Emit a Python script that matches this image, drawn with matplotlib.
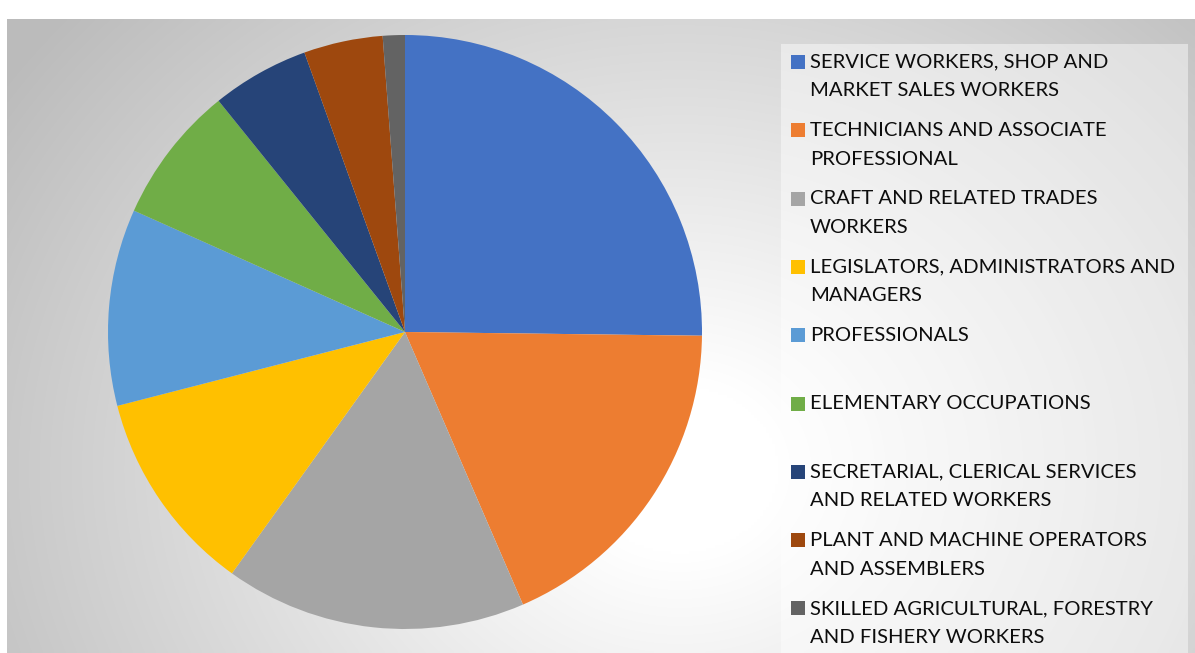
import matplotlib
matplotlib.use("Agg")
import matplotlib.pyplot as plt
import numpy as np
from matplotlib.patches import Rectangle

W, H = 1195, 653

# occupational groups, share of respondents (%)
labels = [
    "SERVICE WORKERS, SHOP AND\nMARKET SALES WORKERS",
    "TECHNICIANS AND ASSOCIATE\nPROFESSIONAL",
    "CRAFT AND RELATED TRADES\nWORKERS",
    "LEGISLATORS, ADMINISTRATORS AND\nMANAGERS",
    "PROFESSIONALS",
    "ELEMENTARY OCCUPATIONS",
    "SECRETARIAL, CLERICAL SERVICES\nAND RELATED WORKERS",
    "PLANT AND MACHINE OPERATORS\nAND ASSEMBLERS",
    "SKILLED AGRICULTURAL, FORESTRY\nAND FISHERY WORKERS",
]
shares = [25.2, 18.3, 16.4, 11.1, 10.7, 7.5, 5.3, 4.3, 1.2]
colors = ["#4472C4", "#ED7D31", "#A5A5A5", "#FFC000", "#5B9BD5",
          "#70AD47", "#264478", "#9E480E", "#636363"]

fig = plt.figure(figsize=(W / 100, H / 100), dpi=100)
fig.patch.set_facecolor("white")


def px(x, y):
    """pixel (from top-left) -> figure fraction"""
    return x / W, 1 - y / H


# chart area background: soft radial grey gradient
bg = fig.add_axes([7 / W, 0, (W - 7) / W, (H - 19) / H])
gx, gy = np.meshgrid(np.linspace(7, W, 400), np.linspace(19, H, 220))
d = np.hypot((gx - 680) / 1.0, (gy - 470) / 0.85)
shade = np.clip(1 - 0.24 * np.clip((d - 100) / 650, 0, 1.1), 0, 1)
bg.imshow(np.dstack([shade] * 3), aspect="auto", extent=(0, 1, 0, 1),
          interpolation="bilinear")
bg.axis("off")

# legend panel (lighter box)
lx0, ly0, lx1 = 781, 44, 1188
leg = fig.add_axes([lx0 / W, 0, (lx1 - lx0) / W, (H - ly0) / H])
leg.set_xlim(0, 1)
leg.set_ylim(0, 1)
leg.add_patch(Rectangle((0, 0), 1, 1, facecolor="white", alpha=0.45, lw=0))
leg.axis("off")

# pie
cx, cy, r = 405, 332, 297
ax = fig.add_axes([(cx - r) / W, (H - cy - r) / H, 2 * r / W, 2 * r / H])
ax.pie(shares, colors=colors, startangle=90, counterclock=False,
       wedgeprops=dict(linewidth=0))
ax.set_xlim(-1, 1)
ax.set_ylim(-1, 1)

# legend entries
y0, step, lh = 62, 68.3, 29
for i, (lab, col) in enumerate(zip(labels, colors)):
    yc = y0 + i * step
    fx, fy = px(791, yc + 7)
    fig.patches.append(Rectangle((fx, fy), 14 / W, 14 / H, facecolor=col,
                                 lw=0, transform=fig.transFigure, figure=fig))
    for j, line in enumerate(lab.split("\n")):
        tx, ty = px(810, yc + j * lh)
        fig.text(tx, ty, line, fontsize=14.6, family="Lato", color="#0d0d0d",
                 va="center", ha="left")

fig.savefig("out.png", dpi=100)
